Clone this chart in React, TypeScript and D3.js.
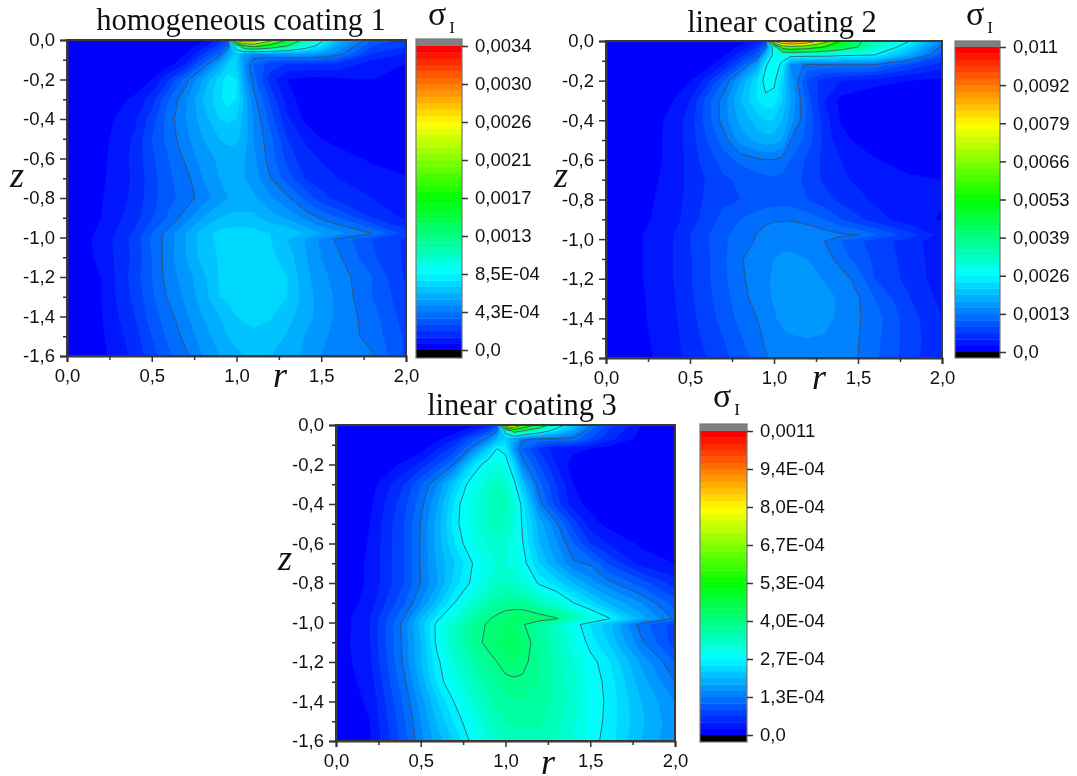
import React, { useEffect, useRef } from "react";
import * as d3 from "d3";

// grid positions of the readings
const rGrid = [0, 0.2, 0.4, 0.5, 0.6, 0.7, 0.8, 0.9, 0.95, 1, 1.05, 1.1, 1.2, 1.3, 1.4, 1.5, 1.6, 1.8, 2];
const zGrid = [0, -0.03, -0.07, -0.12, -0.2, -0.3, -0.4, -0.5, -0.6, -0.7, -0.8, -0.9, -0.98, -1.01, -1.1, -1.2, -1.3, -1.4, -1.5, -1.6];

// values are read as colour band number on each colorbar (48 bands, 6 per labelled tick)
const homogeneous1 = [
  [0, 0, 0, 0, 0, .2, .8, 2.5, 4, 40, 42, 40, 32, 24, 17, 12.5, 9, 5, 3.5],
  [0, 0, 0, 0, .1, .4, 1.5, 3.5, 5.5, 14, 24, 26, 22, 18, 14, 11, 8, 4, 3],
  [0, 0, 0, 0, .2, 1, 3, 5.3, 8, 10, 7.5, 6.8, 7.5, 8, 8, 7.5, 6.5, 3, 2],
  [0, 0, 0, .1, .5, 2, 5, 8, 10, 10, 7, 5, 3.5, 3, 3, 3, 2.8, 1.5, 1],
  [0, 0, .3, 1, 3, 5.5, 8, 10.5, 11.5, 11, 7.5, 5.5, 2.5, 1, .7, .6, .8, 1, .8],
  [0, .3, 1.2, 2.5, 5, 6.8, 9, 10.8, 11.5, 11, 8.5, 6.4, 3.8, 1.5, .5, 0, 0, 0, 0],
  [0, .5, 1.8, 3.5, 5.5, 7, 8.5, 10, 10.2, 10, 8.5, 7, 4.5, 2.2, .8, 0, 0, 0, 0],
  [0, .6, 2.2, 4, 5.4, 6.7, 8, 9, 9.3, 9.2, 8.5, 7, 5.3, 3, 1.9, 1, .6, .2, 0],
  [0, .7, 2.3, 3.8, 5, 6.2, 7.5, 8.2, 8.5, 8.5, 8, 7.3, 5.5, 3.7, 2.4, 1.9, 1.5, .8, .3],
  [0, .8, 2.2, 3.6, 4.8, 5.6, 7, 8, 8.2, 8.3, 8, 7.5, 6, 4.5, 3, 2.4, 2, 1.6, 1.1],
  [0, .9, 2.3, 3.6, 4.7, 5.4, 6.5, 7.5, 8, 8.3, 8.3, 8.2, 7.2, 6.2, 4.8, 3.4, 2.6, 2, 1.4],
  [0, 1, 2.6, 3.9, 5.2, 6.5, 8, 9, 9.2, 9.3, 9.3, 9.3, 8.5, 7.8, 6.8, 5.8, 5, 3, 1.8],
  [.2, 1.2, 3.2, 5, 6.5, 8, 9.5, 10.3, 10.5, 10.5, 10.5, 10.3, 10, 9.8, 9, 8, 7.3, 6, 3.5],
  [.2, 1.3, 3.4, 5.2, 6.5, 8, 9.5, 10.3, 10.5, 10.5, 10.5, 10.4, 10, 9, 8, 6.8, 5.7, 4, 2.8],
  [.3, 1.2, 3.3, 5, 6.6, 8, 9.4, 10.1, 10.5, 10.6, 10.6, 10.6, 10.3, 9.5, 8.2, 7, 6.2, 4.2, 2.8],
  [.3, 1, 3.5, 5, 6.5, 7.5, 8.7, 10.1, 10.3, 10.4, 10.6, 10.6, 10.4, 10, 8.4, 7.3, 6.6, 5, 2.8],
  [.2, 1, 3.3, 4.8, 6.2, 7.2, 8.5, 10, 10.2, 10.3, 10.5, 10.6, 10.4, 10, 8.6, 7.5, 6.8, 5, 3.3],
  [.2, .9, 3, 4.5, 5.6, 6.8, 8, 9, 9.5, 10, 10.2, 10.4, 10.1, 9.3, 8.6, 7.5, 6.8, 5.4, 3.5],
  [.1, .8, 2.6, 4, 5.3, 6.3, 7.5, 8.5, 9, 9.3, 9.6, 9.7, 9.6, 8.9, 8, 7.2, 6.7, 5.6, 3.8],
  [.1, .7, 2.3, 3.6, 4.8, 5.8, 7, 8, 8.5, 8.8, 9, 9.1, 9, 8.5, 7.8, 7, 6.6, 6.1, 3.8],
];

const linear2 = [
  [0, 0, 0, 0, 0, .1, .5, 2, 3.5, 38, 42, 44, 41, 33, 24, 19, 15, 12.2, 7],
  [0, 0, 0, 0, .1, .4, 1.2, 3, 5.5, 14, 27, 29, 27, 24, 21, 18, 15, 10.5, 5.7],
  [0, 0, 0, 0, .2, .8, 2.5, 4.5, 9, 12.7, 13, 13, 13, 13, 12.5, 12.3, 12, 8.5, 4.5],
  [0, 0, 0, .1, .5, 2, 4.5, 8, 11.8, 13, 11.5, 7, 5.7, 5.8, 5.9, 6, 5.9, 4, 2.5],
  [0, 0, .3, 1, 2.5, 5, 8, 11, 12.5, 12.3, 10.5, 7.5, 3.8, 2.5, 2, 1.8, 1.5, 1, .8],
  [0, .2, 1, 2, 4.5, 6.5, 9, 11, 11.7, 11.5, 10, 8, 4.5, 2, .7, .3, 0, 0, 0],
  [0, .3, 1.3, 2.5, 4.5, 6.5, 8.3, 9.5, 10, 10, 9, 7.5, 4.8, 2.5, .9, .3, 0, 0, 0],
  [0, .4, 1.3, 2.5, 4, 5.5, 7.5, 8.3, 8.6, 8.5, 8, 6, 4.5, 2.7, 1.3, .8, .4, 0, 0],
  [0, .4, 1.3, 2.4, 3.5, 4.5, 5.3, 5.8, 5.95, 5.95, 5.6, 5, 3.8, 2.7, 2, 1.5, 1.1, .5, .2],
  [0, .5, 1.4, 2.3, 3.1, 3.8, 4.2, 4.5, 4.7, 4.8, 4.7, 4.6, 3.6, 2.8, 2.2, 1.8, 1.5, 1.2, 1],
  [0, .6, 1.5, 2.4, 3.2, 3.8, 4, 4.2, 4.4, 4.5, 4.5, 4.5, 4, 3.4, 2.7, 2.3, 1.8, 1.3, 1.1],
  [0, .7, 1.6, 2.5, 3.5, 4.3, 5, 5.6, 5.8, 5.9, 5.9, 5.9, 5.6, 5, 4, 3.2, 2.5, 1.4, .9],
  [.1, .9, 2, 3, 3.9, 4.8, 5.5, 6.05, 6.3, 6.5, 6.6, 6.7, 6.8, 6.5, 6.2, 6, 5.2, 3.5, 1.6],
  [.1, .9, 2, 3, 3.9, 4.8, 5.6, 6.1, 6.4, 6.6, 6.7, 6.7, 6.5, 6, 5, 4.2, 3.6, 2.5, 1.3],
  [.2, .9, 2, 2.9, 3.8, 4.8, 5.9, 6.5, 6.8, 7, 7.2, 7.2, 7, 6.5, 5.5, 4.6, 3.8, 2.6, 1.4],
  [.2, .9, 2, 2.9, 3.8, 4.8, 5.8, 6.5, 6.9, 7.1, 7.4, 7.6, 7.4, 6.9, 6.5, 5.6, 4, 2.7, 1.4],
  [.2, .8, 1.9, 2.8, 3.7, 4.6, 5.6, 6.4, 6.8, 7.1, 7.5, 7.7, 7.8, 7.6, 6.7, 6.1, 5, 3.1, 1.7],
  [.1, .8, 1.8, 2.7, 3.5, 4.4, 5.3, 6, 6.5, 6.9, 7.2, 7.4, 7.7, 7.4, 6.7, 6.1, 5.5, 3.5, 2],
  [.1, .7, 1.7, 2.5, 3.3, 4, 4.9, 5.7, 6.2, 6.5, 6.8, 6.9, 7, 6.9, 6.5, 6.05, 5.3, 3.6, 2.1],
  [.1, .6, 1.6, 2.4, 3, 3.7, 4.6, 5.3, 5.9, 6.2, 6.4, 6.5, 6.6, 6.5, 6.3, 6, 5.2, 3.5, 2],
];

const linear3 = [
  [0, 0, 0, 0, 0, .1, .6, 2, 3.5, 36, 38, 30, 22, 14, 10, 6, 4, 1, .2],
  [0, 0, 0, 0, .1, .5, 2, 4, 5.9, 13, 20, 18, 14, 10.5, 8, 5, 3, .8, 0],
  [0, 0, 0, .1, .8, 2, 4.3, 6.5, 9, 10, 8, 6.2, 5.9, 5.9, 5.7, 4, 2.5, .6, 0],
  [0, 0, .1, .6, 2, 3.5, 6.2, 10, 12, 11.5, 7.5, 5, 2.8, 1.5, 1.3, 1, .6, .1, 0],
  [0, .2, 1.2, 2.3, 4, 6.1, 10.5, 13, 13.5, 12.8, 10.5, 6.5, 4, 2, .5, .1, 0, 0, 0],
  [0, .5, 3, 5, 7, 10, 12.8, 14.5, 15.5, 14.5, 12.5, 9.5, 5.3, 3, 1, .2, 0, 0, 0],
  [0, .8, 3.6, 5.6, 8, 11.3, 13.5, 15, 15.8, 15.5, 14, 11.5, 6.4, 3.5, 1.5, .6, 0, 0, 0],
  [0, 1, 4, 6.05, 8.5, 11.5, 13.5, 15, 15.5, 15, 13.8, 11.8, 8.5, 6.2, 3.5, 1.5, .7, .2, 0],
  [0, 1.1, 4, 6.1, 8.5, 11, 13, 14.3, 14.5, 14.2, 13.3, 12.1, 9, 7.2, 5, 3, 2, .8, .2],
  [0, 1.2, 4, 6.1, 8.2, 10, 11.9, 13.5, 14, 14, 13.5, 12.6, 10, 8, 6.2, 5.8, 4, 1.6, 1],
  [0, 1.2, 4, 6, 8, 10.5, 12.2, 14, 14.7, 15, 14.7, 14, 11.7, 10.5, 9, 7.5, 6.4, 4.5, 2.5],
  [0, 1.5, 4.8, 7, 9.5, 12, 14.3, 16, 16.5, 17, 17, 17, 15.5, 14, 12, 10.5, 9, 7, 4.5],
  [.2, 2, 6, 9, 11.7, 14, 16, 17.8, 18.5, 19, 19.3, 19.3, 19, 18.2, 16, 14, 12.3, 8.5, 5.8],
  [.2, 2, 6.4, 9.4, 12.5, 14.8, 16.8, 18.3, 18.8, 19, 19, 18.2, 16.5, 15, 12.7, 11, 9.5, 5.5, 3.5],
  [.3, 2, 6.3, 9, 12.5, 15, 17, 18.6, 19, 19.3, 19.5, 19, 17, 15.2, 13.5, 11.5, 10, 6.2, 3.5],
  [.3, 1.8, 6.2, 9, 11.7, 14, 16, 17.3, 18, 18.8, 19, 18.5, 17, 15.5, 14, 12.5, 11.3, 7.8, 5],
  [.2, 1.5, 5.7, 8.3, 11.3, 13.3, 15, 16.5, 17, 17.5, 17.7, 17.7, 17, 15.7, 14.3, 12.7, 11.7, 8.5, 6],
  [.2, 1.2, 5.2, 7.5, 10, 12.1, 14, 15.7, 16.3, 16.7, 16.9, 17, 16.7, 15.7, 14.5, 12.8, 11.8, 9, 7],
  [.1, 1, 4.8, 7, 9.2, 11.2, 13, 14.8, 15.5, 16, 16.2, 16.4, 16.2, 15.3, 14.2, 12.8, 11.7, 9.2, 7.3],
  [.1, .9, 4.5, 6.7, 8.5, 10.2, 12.3, 14, 14.6, 15, 15.4, 15.5, 15.5, 14.8, 13.8, 12.5, 11.6, 9, 7.2],
];

// colorbar tick labels, bottom to top
const barLabels1 = ["0,0", "4,3E-04", "8,5E-04", "0,0013", "0,0017", "0,0021", "0,0026", "0,0030", "0,0034"];
const barLabels2 = ["0,0", "0,0013", "0,0026", "0,0039", "0,0053", "0,0066", "0,0079", "0,0092", "0,011"];
const barLabels3 = ["0,0", "1,3E-04", "2,7E-04", "4,0E-04", "5,3E-04", "6,7E-04", "8,0E-04", "9,4E-04", "0,0011"];
const contourLevels = [6, 12, 18, 24, 30, 36, 42];

const rTicks = [0, 0.5, 1, 1.5, 2];
const rMinor = [0.25, 0.75, 1.25, 1.75];
const zTicks = [0, -0.2, -0.4, -0.6, -0.8, -1, -1.2, -1.4, -1.6];
const zMinor = [-0.1, -0.3, -0.5, -0.7, -0.9, -1.1, -1.3, -1.5];

const bands = d3.range(48);
const jet = d3.scaleLinear<string>()
  .domain([0, 0.25, 0.5, 0.75, 1])
  .range(["#0000ff", "#00ffff", "#00ff00", "#ffff00", "#ff0000"]);

const panels = [
  {
    title: "homogeneous coating 1", grid: homogeneous1, labels: barLabels1,
    x0: 67, x1: 406, y0: 40, y1: 356, titleX: 241, titleY: 30,
    barX0: 416, barX1: 462, barTop: 39, tickTop: 46, tickBottom: 350, barBottom: 358,
    zX: 17, zY: 187, rX: 280, rY: 387, sigmaX: 428, sigmaY: 25,
  },
  {
    title: "linear coating 2", grid: linear2, labels: barLabels2,
    x0: 606, x1: 942, y0: 41, y1: 358, titleX: 782, titleY: 32,
    barX0: 955, barX1: 1000, barTop: 41, tickTop: 47, tickBottom: 352, barBottom: 358,
    zX: 561, zY: 187, rX: 819, rY: 389, sigmaX: 966, sigmaY: 25,
  },
  {
    title: "linear coating 3", grid: linear3, labels: barLabels3,
    x0: 336, x1: 675, y0: 425, y1: 741, titleX: 522, titleY: 415,
    barX0: 700, barX1: 747, barTop: 424, tickTop: 431, tickBottom: 735, barBottom: 742,
    zX: 285, zY: 570, rX: 548, rY: 774, sigmaX: 713, sigmaY: 407,
  },
];

const comma = (d: number, digits = 1) => d3.format(`.${digits}f`)(d).replace(".", ",").replace("−", "-");

export default function App() {
  const ref = useRef<SVGSVGElement>(null);

  useEffect(() => {
    const svg = d3.select(ref.current);
    svg.selectAll("*").remove();

    panels.forEach((p) => {
      const x = d3.scaleLinear().domain([0, 2]).range([p.x0, p.x1]);
      const y = d3.scaleLinear().domain([0, -1.6]).range([p.y0, p.y1]);

      // d3.contours puts value i at i + 0.5, map that back on the uneven grid
      const xIdx = d3.scaleLinear().domain(rGrid.map((_, i) => i + 0.5)).range(rGrid.map((d) => x(d))).clamp(true);
      const yIdx = d3.scaleLinear().domain(zGrid.map((_, i) => i + 0.5)).range(zGrid.map((d) => y(d))).clamp(true);
      const path = d3.geoPath(d3.geoTransform({
        point(px, py) { this.stream.point(xIdx(px), yIdx(py)); },
      }));

      const flat = p.grid.flat();
      const contours = d3.contours().size([rGrid.length, zGrid.length]);

      const g = svg.append("g");
      g.append("rect")
        .attr("x", p.x0).attr("y", p.y0)
        .attr("width", p.x1 - p.x0).attr("height", p.y1 - p.y0)
        .attr("fill", jet(0));

      g.selectAll(".band")
        .data(bands.slice(1))
        .join("path")
        .attr("class", "band")
        .attr("d", (k) => path(contours.contour(flat, k) as any))
        .attr("fill", (k) => jet(k / 47));

      g.selectAll(".line")
        .data(contourLevels)
        .join("path")
        .attr("class", "line")
        .attr("d", (k) => path(contours.contour(flat, k) as any))
        .attr("fill", "none")
        .attr("stroke", "#3d4a5c")
        .attr("stroke-width", 0.8);

      // cover the lines that run along the plot edge with the frame
      g.append("rect")
        .attr("x", p.x0).attr("y", p.y0)
        .attr("width", p.x1 - p.x0).attr("height", p.y1 - p.y0)
        .attr("fill", "none")
        .attr("stroke", "#3a3a3a")
        .attr("stroke-width", 2);

      const xAxis = g.append("g")
        .attr("transform", `translate(0,${p.y1})`)
        .call(d3.axisBottom(x).tickValues(rTicks).tickSize(6).tickPadding(7).tickFormat((d) => comma(+d)));
      g.append("g")
        .attr("transform", `translate(0,${p.y1})`)
        .call(d3.axisBottom(x).tickValues(rMinor).tickSize(4).tickFormat(() => ""))
        .select(".domain").remove();
      const yAxis = g.append("g")
        .attr("transform", `translate(${p.x0},0)`)
        .call(d3.axisLeft(y).tickValues(zTicks).tickSize(7).tickPadding(5).tickFormat((d) => comma(+d)));
      g.append("g")
        .attr("transform", `translate(${p.x0},0)`)
        .call(d3.axisLeft(y).tickValues(zMinor).tickSize(4).tickFormat(() => ""))
        .select(".domain").remove();

      // colorbar
      const band = d3.scaleLinear().domain([0, 48]).range([p.tickBottom, p.tickTop]);
      g.selectAll(".stripe")
        .data(bands)
        .join("rect")
        .attr("class", "stripe")
        .attr("x", p.barX0).attr("width", p.barX1 - p.barX0)
        .attr("y", (k) => band(k + 1))
        .attr("height", (k) => band(k) - band(k + 1) + 0.4)
        .attr("fill", (k) => jet(k / 47));
      g.append("rect")
        .attr("x", p.barX0).attr("width", p.barX1 - p.barX0)
        .attr("y", p.barTop).attr("height", p.tickTop - p.barTop)
        .attr("fill", "#808080");
      g.append("rect")
        .attr("x", p.barX0).attr("width", p.barX1 - p.barX0)
        .attr("y", p.tickBottom).attr("height", p.barBottom - p.tickBottom)
        .attr("fill", "#000");
      g.append("rect")
        .attr("x", p.barX0).attr("width", p.barX1 - p.barX0)
        .attr("y", p.barTop).attr("height", p.barBottom - p.barTop)
        .attr("fill", "none").attr("stroke", "#777").attr("stroke-width", 1.2);
      const barAxis = g.append("g")
        .attr("transform", `translate(${p.barX1},0)`)
        .call(d3.axisRight(band)
          .tickValues(p.labels.map((_, i) => i * 6))
          .tickSize(6).tickPadding(7)
          .tickFormat((d) => p.labels[+d / 6]));
      barAxis.select(".domain").remove();

      [xAxis, yAxis, barAxis].forEach((a) => {
        a.selectAll("text")
          .attr("font-family", "'Liberation Sans', Arial, sans-serif")
          .attr("font-size", 18.5)
          .attr("fill", "#111");
      });
      g.selectAll(".tick line").attr("stroke", "#333").attr("stroke-width", 1.5);
      g.selectAll(".domain").attr("stroke", "#3a3a3a").attr("stroke-width", 2);

      const serif = "'Liberation Serif', 'Times New Roman', serif";
      g.append("text")
        .attr("x", p.titleX).attr("y", p.titleY)
        .attr("text-anchor", "middle")
        .attr("font-family", serif).attr("font-size", 30.5).attr("fill", "#111")
        .text(p.title);
      g.append("text")
        .attr("x", p.zX).attr("y", p.zY)
        .attr("text-anchor", "middle")
        .attr("font-family", serif).attr("font-style", "italic").attr("font-size", 36).attr("fill", "#111")
        .text("z");
      g.append("text")
        .attr("x", p.rX).attr("y", p.rY)
        .attr("text-anchor", "middle")
        .attr("font-family", serif).attr("font-style", "italic").attr("font-size", 36).attr("fill", "#111")
        .text("r");
      const sigma = g.append("text")
        .attr("x", p.sigmaX).attr("y", p.sigmaY)
        .attr("font-family", serif).attr("font-size", 34).attr("fill", "#111")
        .text("σ");
      sigma.append("tspan").attr("dx", 3).attr("dy", 8).attr("font-size", 17).text("I");
    });
  }, []);

  return (
    <svg
      ref={ref}
      width={1077}
      height={776}
      style={{ position: "absolute", left: 0, top: 0, background: "#fff", filter: "blur(0.5px)" }}
    />
  );
}
